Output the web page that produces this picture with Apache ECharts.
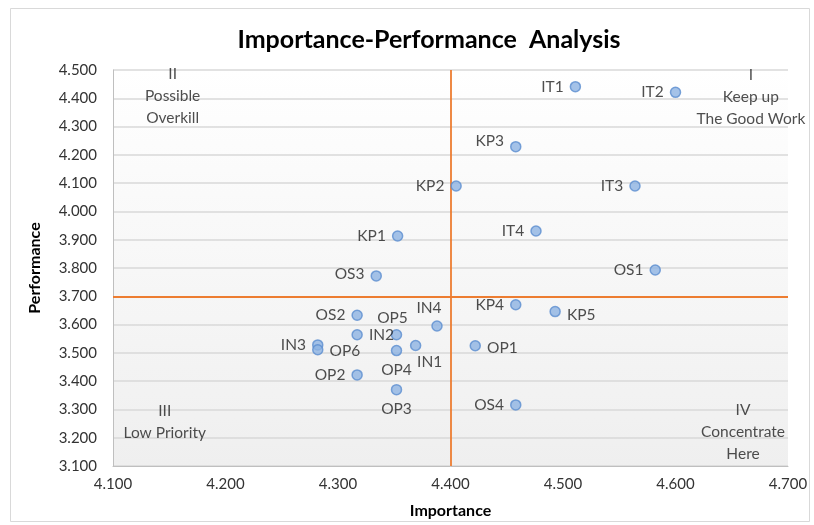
<!DOCTYPE html>
<html>
<head>
<meta charset="utf-8">
<script src="https://cdn.jsdelivr.net/npm/echarts@6/dist/echarts.min.js"></script>
<style>html,body{margin:0;padding:0;background:#fff}#c{width:814px;height:525px}</style>
</head>
<body>
<div id="c"></div>
<script>
const names = ['IT1','IT2','KP3','KP2','IT3','IT4','KP1','OS1','OS3','KP4','KP5','OS2','IN4','IN2','OP5','IN3','OP6','IN1','OP4','OP1','OP2','OP3','OS4'];
const importance = [4.511,4.600,4.458,4.405,4.564,4.476,4.353,4.582,4.334,4.458,4.493,4.317,4.388,4.317,4.352,4.282,4.282,4.369,4.352,4.422,4.317,4.352,4.458];
const performance = [4.441,4.421,4.229,4.090,4.090,3.931,3.913,3.793,3.772,3.670,3.646,3.633,3.595,3.564,3.564,3.528,3.511,3.526,3.508,3.525,3.422,3.370,3.316];
const xTicks = [4.1,4.2,4.3,4.4,4.5,4.6,4.7];
const yTicks = [3.1,3.2,3.3,3.4,3.5,3.6,3.7,3.8,3.9,4.0,4.1,4.2,4.3,4.4,4.5];
const importanceCut = 4.4;
const performanceCut = 3.7;
const quadrantText = ['II\nPossible\nOverkill','I\nKeep up\nThe Good Work','III\nLow Priority','IV\nConcentrate\nHere'];
const quadrantX = [4.153,4.667,4.146,4.660];
const quadrantY = [4.408,4.405,3.254,3.221];

// label placement (style only)
const placement = {
  KP5:['right',[0,3]], OP1:['right',[0,2]], OP6:['right',[0,1]], IN2:['right',[0,0]],
  IN4:['top',[-8,2]], OP5:['top',[-4,3]], OP4:['bottom',[0,0]], OP3:['bottom',[0,0]],
  IN1:['bottom',[14,-3]], KP3:['left',[0,-6]], OS3:['left',[0,-2]], KP4:['left',[0,0]]
};

const FONT = 'Lato, "Open Sans", sans-serif';
const pts = names.map((n,i)=>{
  const p = placement[n] || ['left',[0,0]];
  return {name:n, value:[importance[i],performance[i]], label:{position:p[0], offset:p[1]}};
});

const chart = echarts.init(document.getElementById('c'));
chart.setOption({
  animation:false,
  backgroundColor:'#fff',
  title:{text:'Importance-Performance  Analysis', left:424, top:22, textAlign:'center',
    textStyle:{fontFamily:FONT, fontSize:25, fontWeight:'bold', color:'#000'}},
  graphic:[{type:'rect', shape:{x:10.5,y:8.5,width:799,height:513}, style:{fill:'none', stroke:'#d9d9d9', lineWidth:1}, silent:true, z:-10}],
  grid:{left:113, right:26, top:70, bottom:59, show:true, borderWidth:0,
    backgroundColor:new echarts.graphic.LinearGradient(0,0,0,1,[{offset:0,color:'#ffffff'},{offset:1,color:'#efefef'}])},
  xAxis:{type:'value', min:xTicks[0], max:xTicks[xTicks.length-1], interval:0.1,
    name:'Importance', nameLocation:'middle', nameGap:37,
    nameTextStyle:{fontFamily:FONT, fontSize:16, fontWeight:'bold', color:'#000'},
    axisLine:{show:true, lineStyle:{color:'#bfbfbf', width:1}}, axisTick:{show:false},
    axisLabel:{fontFamily:FONT, fontSize:15, color:'#333', margin:11, formatter:v=>v.toFixed(3)},
    splitLine:{show:false}},
  yAxis:{type:'value', min:yTicks[0], max:yTicks[yTicks.length-1], interval:0.1,
    name:'Performance', nameLocation:'middle', nameGap:70, nameRotate:90,
    nameTextStyle:{fontFamily:FONT, fontSize:16, fontWeight:'bold', color:'#000'},
    axisLine:{show:true, lineStyle:{color:'#bfbfbf', width:1}}, axisTick:{show:false},
    axisLabel:{fontFamily:FONT, fontSize:15, color:'#333', margin:16, formatter:v=>v.toFixed(3)},
    splitLine:{show:true, lineStyle:{color:'#d9d9d9', width:1.5}}},
  series:[
    {type:'scatter', data:pts, symbolSize:10,
      itemStyle:{color:'#8db3e2', borderColor:'#5b8dd0', borderWidth:1.5},
      label:{show:true, formatter:p=>p.name, fontFamily:FONT, fontSize:15.5, color:'#222', distance:6},
      markLine:{silent:true, symbol:'none', label:{show:false},
        lineStyle:{color:'#ed7d31', width:1.8, type:'solid'},
        data:[{xAxis:importanceCut},{yAxis:performanceCut}]},
      z:5},
    {type:'scatter', symbolSize:0, silent:true,
      data:quadrantText.map((t,i)=>({name:t, value:[quadrantX[i],quadrantY[i]]})),
      label:{show:true, position:'inside', formatter:p=>p.name, fontFamily:FONT, fontSize:15.5, color:'#222', lineHeight:22, align:'center'}}
  ]
});
</script>
</body>
</html>
